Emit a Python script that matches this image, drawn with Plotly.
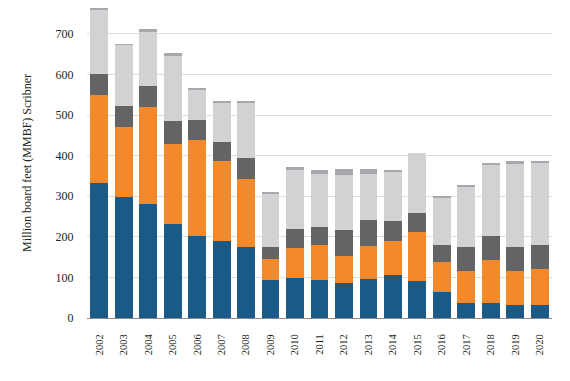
import plotly.graph_objects as go

years = [str(y) for y in range(2002, 2021)]
blue = [332, 299, 280, 232, 203, 190, 176, 94, 99, 94, 86, 96, 107, 91, 63, 37, 38, 33, 33]
orange = [218, 171, 240, 198, 236, 198, 167, 52, 74, 87, 68, 82, 83, 121, 74, 78, 105, 84, 88]
dark_gray = [52, 53, 51, 55, 48, 45, 52, 30, 47, 43, 64, 63, 50, 47, 43, 60, 58, 57, 58]
light_gray = [158, 151, 135, 161, 74, 97, 135, 131, 145, 132, 134, 115, 119, 147, 117, 147, 175, 206, 202]
top_band = [2, 1, 7, 7, 5, 5, 5, 4, 6, 8, 15, 11, 5, 0, 2, 7, 6, 6, 7]

series = [
    ("Series 1", blue, "#1b5a87"),
    ("Series 2", orange, "#f28a2c"),
    ("Series 3", dark_gray, "#636466"),
    ("Series 4", light_gray, "#d1d2d4"),
    ("Series 5", top_band, "#a6a8ab"),
]

fig = go.Figure()
for name, vals, col in series:
    fig.add_trace(go.Bar(x=years, y=vals, name=name, marker_color=col,
                         marker_line_width=0))

font_family = "Liberation Serif, Times New Roman, serif"
fig.update_layout(
    barmode="stack",
    bargap=0.27,
    width=562, height=373,
    margin=dict(l=79, r=18, t=0, b=63),
    paper_bgcolor="white", plot_bgcolor="white",
    showlegend=False,
    font=dict(family=font_family, color="#231f20", size=12),
)
fig.update_xaxes(
    type="category", tickangle=-90, tickfont=dict(size=10.5, family=font_family),
    showline=True, linecolor="#8a8a8a", linewidth=1,
    ticks="outside", ticklen=11, tickcolor="rgba(0,0,0,0)",
    showgrid=False, automargin=False,
)
fig.update_yaxes(
    range=[0, 764], tickvals=[0, 100, 200, 300, 400, 500, 600, 700],
    showgrid=True, gridcolor="#dcdcdc", gridwidth=1, zeroline=False,
    tickfont=dict(size=12, family=font_family), ticks="outside", ticklen=10,
    tickcolor="rgba(0,0,0,0)",
    title=dict(text="Million board feet (MMBF) Scribner", font=dict(size=12, family=font_family), standoff=21),
    automargin=False,
)
fig.write_html("out.html")
